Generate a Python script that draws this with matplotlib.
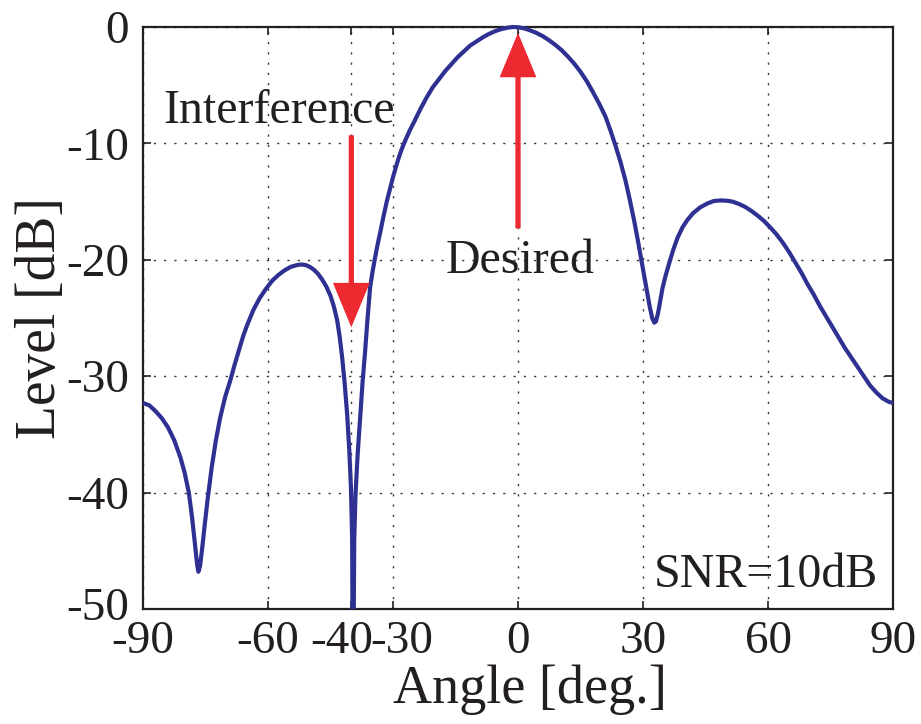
import matplotlib
matplotlib.use("Agg")
import matplotlib.pyplot as plt
import matplotlib.transforms as mtransforms
from matplotlib.transforms import Bbox, TransformedBbox

plt.rcParams['font.family'] = ['Liberation Serif', 'DejaVu Serif']

# ---- data ----
angle_deg = [-90, -88.5, -87, -85.5, -84, -82.5, -81, -80, -79, -78.2, -77.5, -77.0, -76.7,
             -76.3, -75.8, -75.2, -74.5, -73.5, -72.5, -71.5, -70.3, -69, -68, -67, -66,
             -65, -63.5, -62, -60.5, -59, -57.5, -56, -54.5, -53, -52, -51, -50, -49, -48,
             -47, -46, -45, -44.2, -43.4, -42.8, -42.2, -41.6, -41.0, -40.5, -40.1, -39.8,
             -39.6, -39.3, -39.0, -38.5, -37.9, -37.3, -36.7, -36.1, -35.5, -34.9, -34.3,
             -33.7, -33.1, -32.3, -31.5, -30.7, -30, -29.2, -28.5, -27.7, -27.0, -26, -25,
             -23.5, -22, -20.5, -19, -17.5, -16, -14.5, -13, -11.5, -10, -8.5, -7, -5.5,
             -4, -2.5, -1.2, 0, 1.5, 3, 4.5, 6, 7.5, 9, 10.5, 12, 13.5, 15, 16.5, 18,
             19.5, 21, 22.2, 23.4, 24.6, 25.8, 26.8, 27.8, 28.7, 29.5, 30.3, 31.0, 31.6,
             32.2, 32.7, 33.1, 33.6, 34.1, 34.7, 35.4, 36.2, 37.2, 38.3, 39.5, 40.6, 42,
             43.7, 45.5, 47, 48.5, 50, 51.5, 53, 54.5, 56, 57.5, 59, 60.5, 62, 63.5, 65,
             66.5, 68, 69.5, 71, 72.5, 74, 75.5, 77, 78.5, 80, 81.5, 83, 84.5, 86, 87.5,
             89, 90]
level_db = [-32.3, -32.5, -33.0, -33.6, -34.4, -35.5, -37.0, -38.3, -40.0, -42.2, -44.5, -46.2, -46.8,
            -46.3, -44.8, -42.8, -40.6, -37.8, -35.5, -33.6, -31.8, -30.3, -29.0, -27.8, -26.6,
            -25.6, -24.3, -23.3, -22.5, -21.8, -21.3, -20.9, -20.6, -20.45, -20.4, -20.45, -20.6, -20.85, -21.2,
            -21.7, -22.3, -23.1, -24.0, -25.2, -26.6, -28.4, -30.6, -33.3, -36.3, -39.5, -44.0,
            -60.0, -44.0, -40.2, -36.8, -33.6, -30.5, -27.9, -25.0, -22.4, -21.0, -19.8,
            -18.7, -17.7, -16.3, -15.0, -13.9, -12.9, -11.9, -11.1, -10.3, -9.7, -8.9, -8.2,
            -7.1, -6.1, -5.2, -4.5, -3.8, -3.2, -2.6, -2.1, -1.6, -1.25, -0.9, -0.6, -0.36,
            -0.18, -0.06, 0.0, -0.02, -0.12, -0.3, -0.52, -0.8, -1.15, -1.55, -2.0, -2.55, -3.15, -3.85, -4.65, -5.6,
            -6.6, -7.7, -8.9, -10.2, -11.6, -13.2, -14.8, -16.5, -18.2, -19.8, -21.4, -22.8, -24.0,
            -25.0, -25.4, -25.3, -24.6, -23.6, -22.4, -21.4, -20.4, -19.2, -18.1, -17.2, -16.6, -16.0,
            -15.5, -15.15, -14.95, -14.9, -14.92, -15.0, -15.2, -15.45, -15.8, -16.2, -16.65, -17.2, -17.8, -18.5, -19.3,
            -20.2, -21.1, -22.1, -23.0, -24.0, -24.9, -25.8, -26.7, -27.6, -28.4, -29.2, -30.0, -30.8, -31.4, -31.9,
            -32.2, -32.3]

x_ticks = [-90, -60, -40, -30, 0, 30, 60, 90]
x_tick_labels = ['-90', '-60', '-40', '-30', '0', '30', '60', '90']
y_ticks = [-50, -40, -30, -20, -10, 0]
y_tick_labels = ['-50', '-40', '-30', '-20', '-10', '0']

interference_angle = -40
desired_angle = 0

# ---- figure ----
W, H = 921, 724
fig = plt.figure(figsize=(W / 100, H / 100), dpi=100)
ax = fig.add_axes([143 / W, 115 / H, 750 / W, 582 / H])

line_color = '#2E3192'
red = '#EC2A2F'
ink = '#231F20'

ax.set_xlim(-90, 90)
ax.set_ylim(-50, 0)

ln, = ax.plot(angle_deg, level_db, color=line_color, lw=3.0, solid_capstyle='round',
              solid_joinstyle='round', zorder=3)
clipbox = TransformedBbox(Bbox([[0, 0], [1, 1.03]]), ax.transAxes)
ln.set_clip_box(clipbox)

ax.set_xticks(x_ticks)
ax.set_xticklabels(x_tick_labels)
ax.set_yticks(y_ticks)
ax.set_yticklabels(y_tick_labels)

ax.grid(True, linestyle=(0, (1.6, 5.8)), color='#3a3a3a', linewidth=1.0, zorder=1)
ax.tick_params(direction='in', length=6, width=1.2, top=True, right=True,
               labelsize=34, colors=ink)
ax.tick_params(axis='x', pad=8)
ax.tick_params(axis='y', pad=10)

for s in ax.spines.values():
    s.set_linewidth(1.6)
    s.set_color(ink)

# push the crowded -40 / -30 labels apart like the original
for lab in ax.get_xticklabels():
    t = lab.get_text()
    if t == '-40':
        lab.set_transform(lab.get_transform() +
                          mtransforms.ScaledTranslation(-0.10, 0, fig.dpi_scale_trans))
    elif t == '-30':
        lab.set_transform(lab.get_transform() +
                          mtransforms.ScaledTranslation(0.09, 0, fig.dpi_scale_trans))
for lab in ax.get_yticklabels():
    if lab.get_text() == '-50':
        lab.set_transform(lab.get_transform() +
                          mtransforms.ScaledTranslation(0, 0.05, fig.dpi_scale_trans))

ax.set_xlabel('Angle [deg.]', fontsize=39, va='baseline', color=ink)
ax.xaxis.set_label_coords((529.5 - 143) / 750, (609 - 703) / 582)
ax.set_ylabel('Level [dB]', fontsize=40, va='center', ha='center', color=ink)
ax.yaxis.set_label_coords((41 - 143) / 750, 0.5)

# annotations
ax.text(-57.4, -8.25, 'Interference', fontsize=34.5, ha='center', va='baseline',
        color=ink, zorder=4)
ax.text(0.5, -21.1, 'Desired', fontsize=34.5, ha='center', va='baseline',
        color=ink, zorder=4)
ax.text(86.4, -48.1, 'SNR=10dB', fontsize=34.5, ha='right', va='baseline',
        color=ink, zorder=4)

arrow_style = "simple, head_length=3.2, head_width=2.65, tail_width=0.38"
ax.annotate('', xy=(interference_angle, -25.8), xytext=(interference_angle, -9.3),
            arrowprops=dict(arrowstyle=arrow_style, mutation_scale=10, color=red,
                            shrinkA=0, shrinkB=0, lw=0), zorder=5)
ax.annotate('', xy=(desired_angle, -0.5), xytext=(desired_angle, -17.3),
            arrowprops=dict(arrowstyle=arrow_style, mutation_scale=10, color=red,
                            shrinkA=0, shrinkB=0, lw=0), zorder=5)

fig.savefig('out.png', dpi=100)
